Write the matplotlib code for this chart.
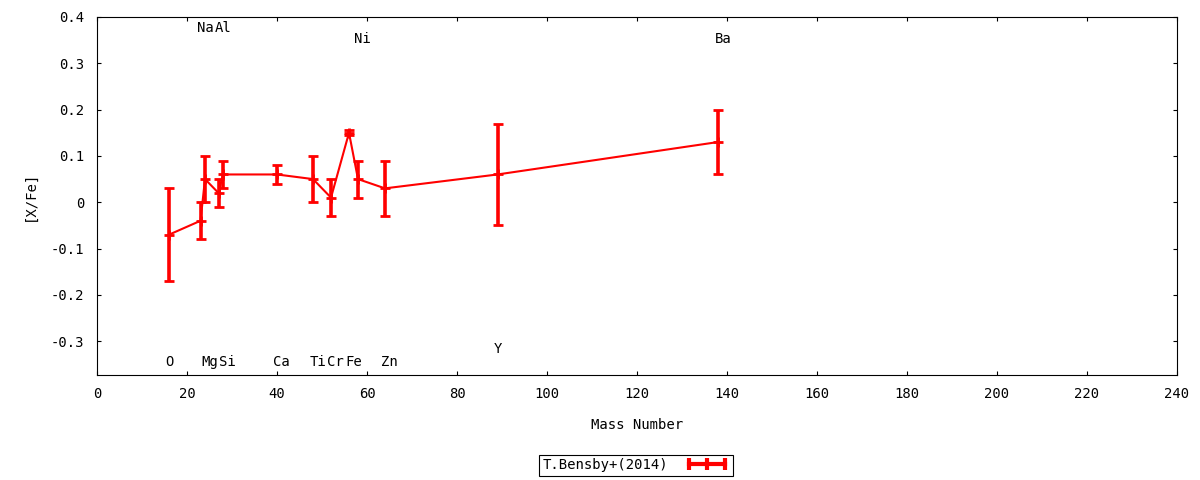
import numpy as np
import matplotlib
matplotlib.use('Agg')
import matplotlib.pyplot as plt
from matplotlib.lines import Line2D

# Dados: número de massa, [X/Fe] e erro
mass = [16, 23, 24, 27, 28, 40, 48, 52, 56, 58, 64, 89, 138]
xfe = [-0.07, -0.04, 0.05, 0.02, 0.06, 0.06, 0.05, 0.01, 0.15, 0.05, 0.03, 0.06, 0.13]
err = [0.10, 0.04, 0.05, 0.03, 0.03, 0.02, 0.05, 0.04, 0.005, 0.04, 0.06, 0.11, 0.07]

# Rótulos dos elementos
elem_names = ['O', 'Na', 'Mg', 'Al', 'Si', 'Ca', 'Ti', 'Cr', 'Fe', 'Ni', 'Zn', 'Y', 'Ba']
elem_mass = [16, 23, 24, 27, 28, 40, 48, 52, 56, 58, 64, 89, 138]
elem_y = [-0.346, 0.376, -0.346, 0.376, -0.346, -0.346, -0.346, -0.346, -0.346,
          0.353, -0.346, -0.316, 0.353]

xticks = np.arange(0, 241, 20)
yticks = [-0.3, -0.2, -0.1, 0, 0.1, 0.2, 0.3, 0.4]
ytick_labels = ['-0.3', '-0.2', '-0.1', '0', '0.1', '0.2', '0.3', '0.4']

plt.rcParams['font.family'] = ['DejaVu Sans Mono']
plt.rcParams['font.size'] = 10

fig = plt.figure(figsize=(12, 4.8), dpi=100)
ax = fig.add_axes([97 / 1200, 1 - 375 / 480, 1080 / 1200, 358 / 480])

ax.errorbar(mass, xfe, yerr=err, color='red', lw=1.5, elinewidth=2.6,
            capsize=3.5, capthick=2.8, marker='+', ms=7, mew=2)

for name, m, y in zip(elem_names, elem_mass, elem_y):
    ax.text(m - 0.8, y, name, ha='left', va='center', fontsize=10)

ax.set_xlim(0, 240)
ax.set_ylim(-0.373, 0.4)
ax.set_xticks(xticks)
ax.set_yticks(yticks)
ax.set_yticklabels(ytick_labels)
ax.tick_params(direction='in', length=3, width=0.8, top=True, right=True, pad=9)
for sp in ax.spines.values():
    sp.set_linewidth(0.8)

ax.set_xlabel('Mass Number', labelpad=12)
ax.set_ylabel('[X/Fe]', labelpad=10)

handle = Line2D([], [], color='red', lw=3, marker='|', ms=9, mew=3)
leg = fig.legend([handle], ['T.Bensby+(2014)'], loc='center',
                 bbox_to_anchor=(0.53, 0.031), numpoints=3, markerfirst=False,
                 fancybox=False, edgecolor='black', framealpha=1,
                 borderpad=0.25, handlelength=3.2, handletextpad=1.2)
leg.get_frame().set_linewidth(0.8)

fig.savefig('out.png', dpi=100)
